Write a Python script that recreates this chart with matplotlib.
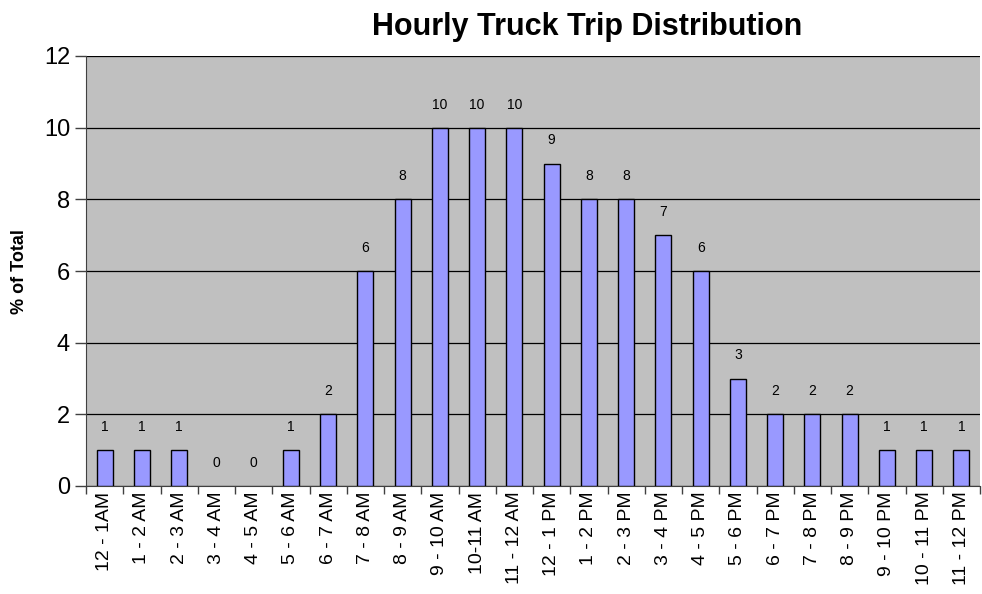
import matplotlib
matplotlib.use("Agg")
import matplotlib.pyplot as plt
import numpy as np

plt.rcParams['font.family'] = ['Liberation Sans', 'DejaVu Sans']

# Horas do dia e percentual de viagens
horas = ["12 - 1AM", "1 - 2 AM", "2 - 3 AM", "3 - 4 AM", "4 - 5 AM", "5 - 6 AM",
         "6 - 7 AM", "7 - 8 AM", "8 - 9 AM", "9 - 10 AM", "10-11 AM", "11 - 12 AM",
         "12 - 1 PM", "1 - 2 PM", "2 - 3 PM", "3 - 4 PM", "4 - 5 PM", "5 - 6 PM",
         "6 - 7 PM", "7 - 8 PM", "8 - 9 PM", "9 - 10 PM", "10 - 11 PM", "11 - 12 PM"]
percentual = [1, 1, 1, 0, 0, 1, 2, 6, 8, 10, 10, 10, 9, 8, 8, 7, 6, 3, 2, 2, 2, 1, 1, 1]

fig = plt.figure(figsize=(9.82, 5.94), dpi=100)
ax = fig.add_axes([86 / 982, 108 / 594, 894 / 982, 430 / 594])
ax.set_facecolor('#C0C0C0')

x = np.arange(len(horas))
# barras com valor zero ficam sem contorno
bordas = [1 if v > 0 else 0 for v in percentual]
ax.bar(x, percentual, width=0.43, color='#9999FF', edgecolor='black', linewidth=bordas, zorder=3)

for xi, v in zip(x, percentual):
    ax.text(xi, v + 0.45, str(v), ha='center', va='bottom', fontsize=10, zorder=4)

ax.set_xlim(-0.5, len(horas) - 0.5)
ax.set_ylim(0, 12)
ax.set_yticks(range(0, 13, 2))
ax.yaxis.grid(True, color='black', linewidth=0.9, zorder=1)
ax.tick_params(axis='y', labelsize=17, length=8, width=1, color='#404040')

# ticks nas divisas, rótulos no centro
ax.set_xticks(np.arange(-0.5, len(horas), 1))
ax.set_xticklabels([])
ax.set_xticks(x, minor=True)
ax.set_xticklabels(horas, minor=True, rotation=90, fontsize=14, ha='center', va='top')
ax.tick_params(axis='x', which='major', length=6, width=1, color='#404040')
ax.tick_params(axis='x', which='minor', length=0, pad=4)

for s in ['top', 'right']:
    ax.spines[s].set_visible(False)
ax.spines['left'].set_color('#404040')
ax.spines['bottom'].set_color('#404040')

ax.set_ylabel('% of Total', fontsize=13, fontweight='bold')
ax.yaxis.set_label_coords(28 / 982, 322 / 594, transform=fig.transFigure)
fig.text(0.598, 0.955, 'Hourly Truck Trip Distribution', ha='center', va='center',
         fontsize=22, fontweight='bold')

fig.savefig('out.png', dpi=100)
